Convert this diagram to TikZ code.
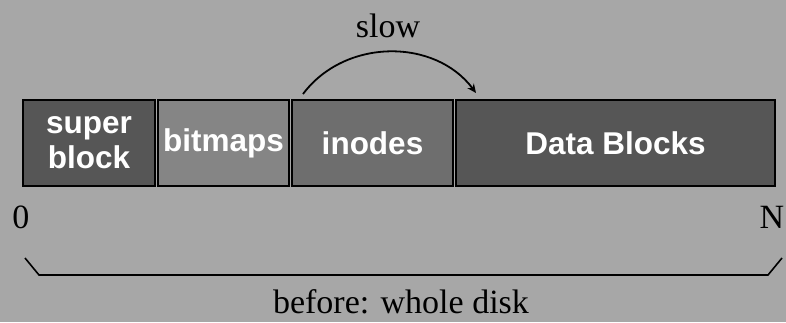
\documentclass[tikz,border=0pt]{standalone}
\usepackage{fontspec}
\setmainfont{Liberation Serif}
\setsansfont{Liberation Sans}
\usepackage{tikz}
\usetikzlibrary{positioning,arrows.meta}

\definecolor{bggray}{HTML}{A7A7A7}
\definecolor{darkblk}{HTML}{565656}
\definecolor{midblk}{HTML}{6E6E6E}
\definecolor{lightblk}{HTML}{858585}

\begin{document}
\begin{tikzpicture}
	[x=1pt, y=-1pt, node distance=3pt,
	blk_style/.style={draw=black, line width=2pt, text=white, inner sep=0pt, outer sep=0pt,
		minimum height=86pt, align=center,
		font=\sffamily\bfseries\fontsize{31.5}{35}\selectfont},
	label_style/.style={inner sep=0pt, font=\fontsize{34}{34}\selectfont},
	edge_style/.style={draw=black, line width=1.8pt, -{Stealth[length=9pt,width=8pt]}}]
	\fill[bggray] (0,0) rectangle (786,322);
	\useasboundingbox (0,0) rectangle (786,322);

	\node[blk_style, fill=darkblk, minimum width=132pt] (super) at (89,143) {super\\block};
	\node[blk_style, fill=lightblk, minimum width=131pt, right=of super] (bitmaps) {bitmaps};
	\node[blk_style, fill=midblk, minimum width=161pt, right=of bitmaps] (inodes) {inodes};
	\node[blk_style, fill=darkblk, minimum width=319pt, right=of inodes] (data) {Data Blocks};

	\node[label_style] (slow) at (388,26) {slow};
	\node[label_style] (zero) at (21,217) {0};
	\node[label_style] (endn) at (772,217) {N};
	\node[label_style] (whole) at (401,302) {before: whole disk};

	% slow jump over the inodes
	\coordinate (jump_a) at ([xshift=11pt,yshift=6pt]inodes.north west);
	\coordinate (jump_b) at ([xshift=20pt,yshift=7pt]data.north west);
	\draw[edge_style] (jump_a) .. controls (345,38) and (435,38) .. (jump_b);

	% brace under the disk
	\coordinate (br_l) at (25,258);
	\coordinate (br_r) at (782,258);
	\draw[line width=1.6pt] (br_l) -- (39,275) -- (768,275) -- (br_r);
\end{tikzpicture}
\end{document}
